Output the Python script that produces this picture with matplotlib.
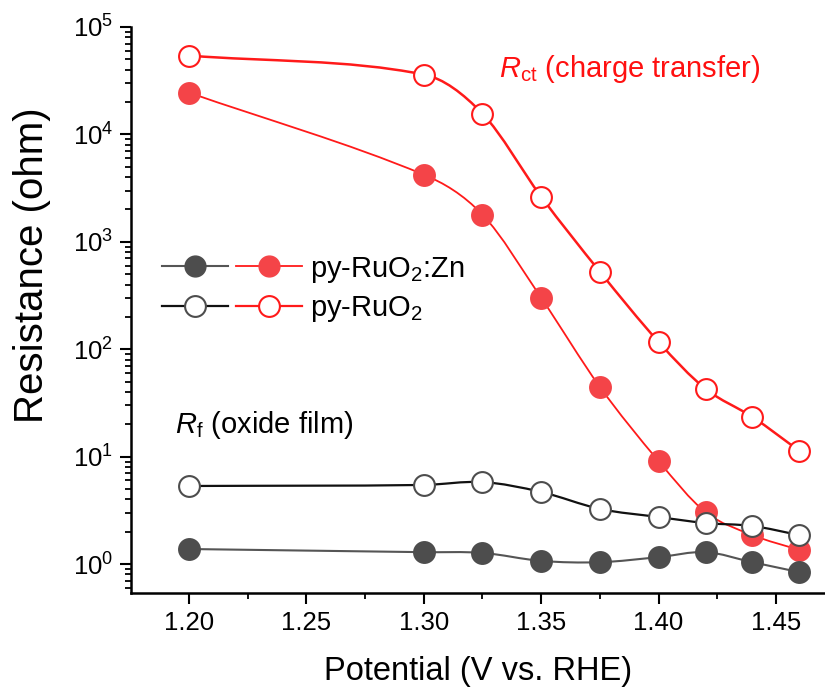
import matplotlib
matplotlib.use("Agg")
import numpy as np
import matplotlib.pyplot as plt
from matplotlib.path import Path
from matplotlib.patches import PathPatch
from matplotlib.lines import Line2D
from matplotlib.legend_handler import HandlerTuple

plt.rcParams["font.family"] = ["Liberation Sans", "DejaVu Sans"]
plt.rcParams["mathtext.fontset"] = "custom"
plt.rcParams["mathtext.rm"] = "Liberation Sans"
plt.rcParams["mathtext.it"] = "Liberation Sans:italic"

# Potential (V vs. RHE)
potential = [1.20, 1.30, 1.325, 1.35, 1.375, 1.40, 1.42, 1.44, 1.46]

# Charge-transfer resistance (ohm)
rct_zn = [24500, 4220, 1790, 301, 44.6, 9.1, 3.05, 1.86, 1.35]
rct_ruo2 = [54200, 36100, 15600, 2630, 527, 117, 42.8, 23.4, 11.3]

# Oxide film resistance (ohm)
rf_zn = [1.38, 1.29, 1.27, 1.07, 1.04, 1.16, 1.29, 1.04, 0.84]
rf_ruo2 = [5.33, 5.45, 5.8, 4.69, 3.26, 2.74, 2.41, 2.26, 1.86]

RED_FILL = "#f44448"
RED_LINE = "#ff1a1a"
GRAY_FILL = "#4d4d4d"
MS = 15


def smooth_path(x, y):
    """Cubic Hermite curve through the points, built in log10(y) space."""
    x = np.asarray(x, float)
    v = np.log10(np.asarray(y, float))
    n = len(x)
    m = np.empty(n)
    m[0] = (v[1] - v[0]) / (x[1] - x[0])
    m[-1] = (v[-1] - v[-2]) / (x[-1] - x[-2])
    for i in range(1, n - 1):
        m[i] = (v[i + 1] - v[i - 1]) / (x[i + 1] - x[i - 1])
    verts = [(x[0], 10 ** v[0])]
    codes = [Path.MOVETO]
    for i in range(n - 1):
        h = x[i + 1] - x[i]
        c1 = (x[i] + h / 3, 10 ** (v[i] + m[i] * h / 3))
        c2 = (x[i + 1] - h / 3, 10 ** (v[i + 1] - m[i + 1] * h / 3))
        verts += [c1, c2, (x[i + 1], 10 ** v[i + 1])]
        codes += [Path.CURVE4] * 3
    return Path(verts, codes)


fig = plt.figure(figsize=(8.25, 6.92), dpi=100)
ax = fig.add_axes([0.1588, 0.143, 0.8412, 0.818])
ax.set_yscale("log")

series = [
    (rct_zn, RED_LINE, 1.3, dict(markerfacecolor=RED_FILL, markeredgecolor=RED_FILL)),
    (rct_ruo2, RED_LINE, 1.8, dict(markerfacecolor="white", markeredgecolor=RED_LINE)),
    (rf_zn, "#555555", 1.5, dict(markerfacecolor=GRAY_FILL, markeredgecolor=GRAY_FILL)),
    (rf_ruo2, "#111111", 1.6, dict(markerfacecolor="white", markeredgecolor=GRAY_FILL)),
]
z = 2
for vals, lc, lw, mk in series:
    ax.add_patch(PathPatch(smooth_path(potential, vals), fill=False,
                           edgecolor=lc, linewidth=lw, zorder=z))
    ax.plot(potential, vals, linestyle="none", marker="o", markersize=MS,
            markeredgewidth=1.5, zorder=z + 0.5, **mk)
    z += 1

ax.set_xlim(1.1753, 1.4709)
ax.set_ylim(10 ** -0.27, 1e5)
ax.set_xticks([1.20, 1.25, 1.30, 1.35, 1.40, 1.45])
ax.set_xticks(np.arange(1.225, 1.47, 0.05), minor=True)
ax.xaxis.set_major_formatter(plt.FormatStrFormatter("%.2f"))

for side in ("top", "right"):
    ax.spines[side].set_visible(False)
for side in ("left", "bottom"):
    ax.spines[side].set_linewidth(1.8)

ax.tick_params(which="major", direction="out", length=8, width=1.5,
               labelsize=18.5, pad=5)
ax.tick_params(which="minor", direction="out", length=4.5, width=1.3)
ax.set_xlabel("Potential (V vs. RHE)", fontsize=23.5, labelpad=15)
ax.set_ylabel("Resistance (ohm)", fontsize=29)
ax.yaxis.set_label_coords(-0.116, 0.58)

ax.text(0.53, 0.926, r"$R_{\rm ct}$ (charge transfer)", color="#ff1010",
        fontsize=21, transform=ax.transAxes, va="center")
ax.text(0.063, 0.297, r"$R_{\rm f}$ (oxide film)", color="black",
        fontsize=21, transform=ax.transAxes, va="center")

# Legend: gray (film) and red (charge transfer) handles share one label
h_zn = (Line2D([], [], color="#555555", lw=1.5, marker="o", markersize=MS,
               markerfacecolor=GRAY_FILL, markeredgecolor=GRAY_FILL),
        Line2D([], [], color=RED_LINE, lw=1.3, marker="o", markersize=MS,
               markerfacecolor=RED_FILL, markeredgecolor=RED_FILL))
h_ruo2 = (Line2D([], [], color="#111111", lw=1.6, marker="o", markersize=MS,
                 markerfacecolor="white", markeredgecolor=GRAY_FILL,
                 markeredgewidth=1.5),
          Line2D([], [], color=RED_LINE, lw=1.6, marker="o", markersize=MS,
                 markerfacecolor="white", markeredgecolor=RED_LINE,
                 markeredgewidth=1.5))
ax.legend([h_zn, h_ruo2], [r"py-RuO$_2$:Zn", r"py-RuO$_2$"],
          handler_map={tuple: HandlerTuple(ndivide=None, pad=0.27)},
          loc="upper left", bbox_to_anchor=(0.045, 0.598), frameon=False,
          fontsize=21, handlelength=4.8, handletextpad=0.27,
          labelspacing=0.32, borderpad=0, borderaxespad=0)

fig.savefig("out.png", dpi=100)
